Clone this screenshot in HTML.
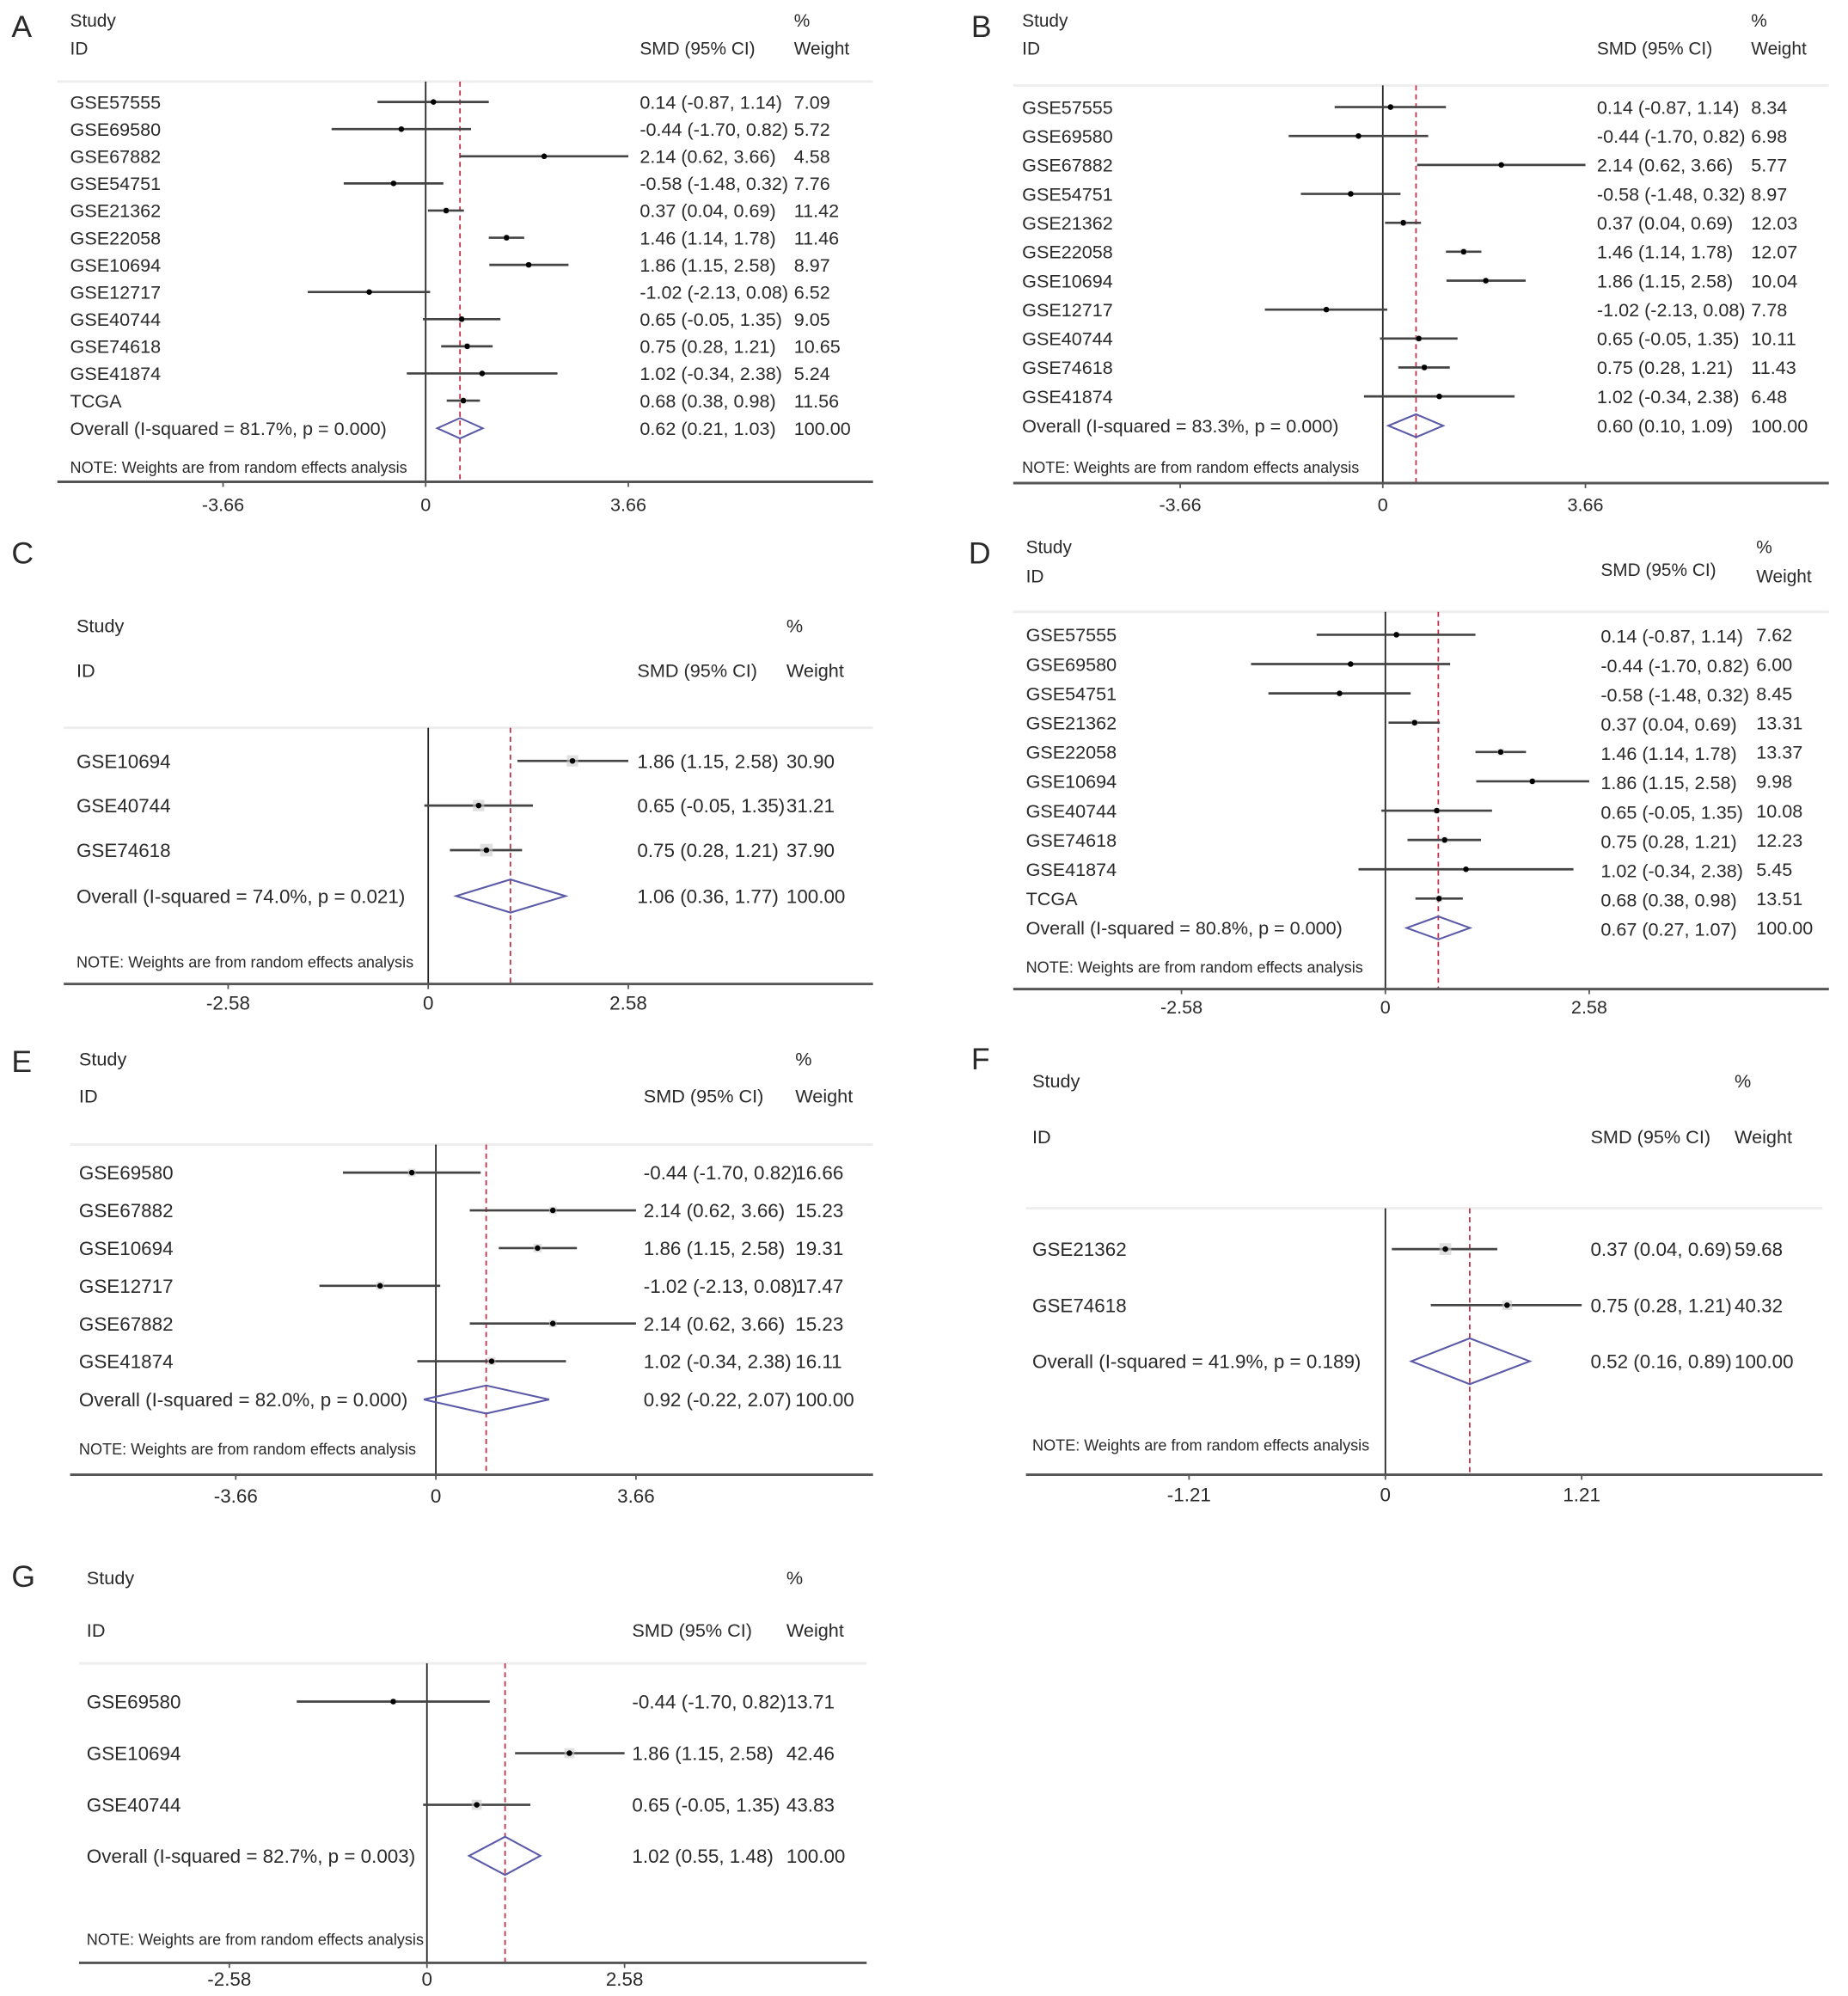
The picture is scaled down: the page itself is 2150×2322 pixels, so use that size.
<!DOCTYPE html>
<html><head><meta charset="utf-8">
<style>
html,body{margin:0;padding:0;background:#fff;}
svg{display:block;}
text{font-family:"Liberation Sans Narrow","Liberation Sans",sans-serif;fill:#2a2a2a;}
</style></head>
<body>
<svg id="fig" width="2150" height="2322" viewBox="0 0 1450 1566" preserveAspectRatio="none" xmlns="http://www.w3.org/2000/svg"></svg>
<script>
// ---- Panel A data ----
const aStudies=["GSE57555","GSE69580","GSE67882","GSE54751","GSE21362","GSE22058","GSE10694","GSE12717","GSE40744","GSE74618","GSE41874","TCGA"];
const aSmd=[0.14,-0.44,2.14,-0.58,0.37,1.46,1.86,-1.02,0.65,0.75,1.02,0.68];
const aLo=[-0.87,-1.70,0.62,-1.48,0.04,1.14,1.15,-2.13,-0.05,0.28,-0.34,0.38];
const aHi=[1.14,0.82,3.66,0.32,0.69,1.78,2.58,0.08,1.35,1.21,2.38,0.98];
const aWeight=["7.09","5.72","4.58","7.76","11.42","11.46","8.97","6.52","9.05","10.65","5.24","11.56"];
const aOverall=[0.62,0.21,1.03];
const aOverallLabel="Overall  (I-squared = 81.7%, p = 0.000)";
const aTicks=[-3.66,0,3.66];
// ---- Panel B data ----
const bStudies=["GSE57555","GSE69580","GSE67882","GSE54751","GSE21362","GSE22058","GSE10694","GSE12717","GSE40744","GSE74618","GSE41874"];
const bSmd=[0.14,-0.44,2.14,-0.58,0.37,1.46,1.86,-1.02,0.65,0.75,1.02];
const bLo=[-0.87,-1.70,0.62,-1.48,0.04,1.14,1.15,-2.13,-0.05,0.28,-0.34];
const bHi=[1.14,0.82,3.66,0.32,0.69,1.78,2.58,0.08,1.35,1.21,2.38];
const bWeight=["8.34","6.98","5.77","8.97","12.03","12.07","10.04","7.78","10.11","11.43","6.48"];
const bOverall=[0.60,0.10,1.09];
const bOverallLabel="Overall  (I-squared = 83.3%, p = 0.000)";
const bTicks=[-3.66,0,3.66];
// ---- Panel C data ----
const cStudies=["GSE10694","GSE40744","GSE74618"];
const cSmd=[1.86,0.65,0.75];
const cLo=[1.15,-0.05,0.28];
const cHi=[2.58,1.35,1.21];
const cWeight=["30.90","31.21","37.90"];
const cOverall=[1.06,0.36,1.77];
const cOverallLabel="Overall  (I-squared = 74.0%, p = 0.021)";
const cTicks=[-2.58,0,2.58];
// ---- Panel D data ----
const dStudies=["GSE57555","GSE69580","GSE54751","GSE21362","GSE22058","GSE10694","GSE40744","GSE74618","GSE41874","TCGA"];
const dSmd=[0.14,-0.44,-0.58,0.37,1.46,1.86,0.65,0.75,1.02,0.68];
const dLo=[-0.87,-1.70,-1.48,0.04,1.14,1.15,-0.05,0.28,-0.34,0.38];
const dHi=[1.14,0.82,0.32,0.69,1.78,2.58,1.35,1.21,2.38,0.98];
const dWeight=["7.62","6.00","8.45","13.31","13.37","9.98","10.08","12.23","5.45","13.51"];
const dOverall=[0.67,0.27,1.07];
const dOverallLabel="Overall  (I-squared = 80.8%, p = 0.000)";
const dTicks=[-2.58,0,2.58];
// ---- Panel E data ----
const eStudies=["GSE69580","GSE67882","GSE10694","GSE12717","GSE67882","GSE41874"];
const eSmd=[-0.44,2.14,1.86,-1.02,2.14,1.02];
const eLo=[-1.70,0.62,1.15,-2.13,0.62,-0.34];
const eHi=[0.82,3.66,2.58,0.08,3.66,2.38];
const eWeight=["16.66","15.23","19.31","17.47","15.23","16.11"];
const eOverall=[0.92,-0.22,2.07];
const eOverallLabel="Overall  (I-squared = 82.0%, p = 0.000)";
const eTicks=[-3.66,0,3.66];
// ---- Panel F data ----
const fStudies=["GSE21362","GSE74618"];
const fSmd=[0.37,0.75];
const fLo=[0.04,0.28];
const fHi=[0.69,1.21];
const fWeight=["59.68","40.32"];
const fOverall=[0.52,0.16,0.89];
const fOverallLabel="Overall  (I-squared = 41.9%, p = 0.189)";
const fTicks=[-1.21,0,1.21];
// ---- Panel G data ----
const gStudies=["GSE69580","GSE10694","GSE40744"];
const gSmd=[-0.44,1.86,0.65];
const gLo=[-1.70,1.15,-0.05];
const gHi=[0.82,2.58,1.35];
const gWeight=["13.71","42.46","43.83"];
const gOverall=[1.02,0.55,1.48];
const gOverallLabel="Overall  (I-squared = 82.7%, p = 0.003)";
const gTicks=[-2.58,0,2.58];

const NS="http://www.w3.org/2000/svg";
const svg=document.getElementById('fig');
const K=1.12;
function mk(tag,attrs,parent){const e=document.createElementNS(NS,tag);for(const k in attrs)e.setAttribute(k,attrs[k]);(parent||svg).appendChild(e);return e;}
function fmt(v){return v.toFixed(2);}
function ci(s,l,h){return fmt(s)+" ("+fmt(l)+", "+fmt(h)+")";}

function panel(L,d){
  const g=mk('g',{});
  
  
  const xs=v=>L.x0+v*L.unit;
  const fs=L.fs*K;
  let t;
  t=mk('text',{x:L.lx,y:L.ly,'font-size':24,'font-family':'Liberation Sans'},g);t.textContent=L.letter;
  
  
  t=mk('text',{x:L.labX,y:L.studyY,'font-size':fs-0.5},g);t.textContent="Study";
  
  
  t=mk('text',{x:L.labX,y:L.idY,'font-size':fs-0.5},g);t.textContent="ID";
  
  
  t=mk('text',{x:L.wX,y:L.studyY,'font-size':fs-0.5},g);t.textContent="%";
  
  
  t=mk('text',{x:L.vX,y:L.smdY,'font-size':fs-0.5},g);t.textContent="SMD (95% CI)";
  
  
  t=mk('text',{x:L.wX,y:L.idY,'font-size':fs-0.5},g);t.textContent="Weight";
  
  
  let ln=mk('line',{x1:L.ax1,x2:L.ax2,y1:L.hdrY,y2:L.hdrY,stroke:'#eee','stroke-width':2},g);
  
  
  ln=mk('line',{x1:xs(0),x2:xs(0),y1:L.hdrY,y2:L.axY,stroke:'#222','stroke-width':1.2},g);
  
  
  ln=mk('line',{x1:xs(d.ov[0]),x2:xs(d.ov[0]),y1:L.hdrY,y2:L.axY,stroke:'#c0304a','stroke-width':1.2,'stroke-dasharray':'4,3'},g);
  
  
  d.st.forEach((s,i)=>{
    const y=L.row0+i*L.step;
    const r=mk('g',{},g);
    
    
    let tt=mk('text',{x:L.labX,y:y+fs*0.36,'font-size':fs},r);tt.textContent=s;
    
    
    let l=mk('line',{x1:xs(d.lo[i]),x2:xs(d.hi[i]),y1:y,y2:y,stroke:'#444','stroke-width':1.8},r);
    
    
    const sz=Math.sqrt(parseFloat(d.w[i]))*L.sq;
    let q=mk('rect',{x:xs(d.smd[i])-sz/2,y:y-sz/2,width:sz,height:sz,fill:'#ccc','fill-opacity':0.6},r);
    
    
    let c=mk('circle',{cx:xs(d.smd[i]),cy:y,r:2.2,fill:'#000'},r);
    
    
    tt=mk('text',{x:L.vX,y:y+fs*0.36+(L.vDy||0),'font-size':fs},r);tt.textContent=ci(d.smd[i],d.lo[i],d.hi[i]);
    
    
    tt=mk('text',{x:L.wX,y:y+fs*0.36,'font-size':fs},r);tt.textContent=d.w[i];
    
    
  });
  const oy=L.ovY;
  t=mk('text',{x:L.labX,y:oy+fs*0.36,'font-size':fs},g);t.textContent=d.ovLabel;
  
  
  const dm=mk('polygon',{points:[xs(d.ov[1])+','+oy,xs(d.ov[0])+','+(oy-L.dh),xs(d.ov[2])+','+oy,xs(d.ov[0])+','+(oy+L.dh)].join(' '),fill:'none',stroke:'#5a5aa8','stroke-width':1.4},g);
  
  
  t=mk('text',{x:L.vX,y:oy+fs*0.36+(L.vDy||0),'font-size':fs},g);t.textContent=ci(d.ov[0],d.ov[1],d.ov[2]);
  
  
  t=mk('text',{x:L.wX,y:oy+fs*0.36,'font-size':fs},g);t.textContent="100.00";
  
  
  t=mk('text',{x:L.labX,y:L.noteY,'font-size':12.2},g);t.textContent="NOTE: Weights are from random effects analysis";
  
  
  ln=mk('line',{x1:L.ax1,x2:L.ax2,y1:L.axY,y2:L.axY,stroke:'#555','stroke-width':2},g);
  
  
  d.ticks.forEach(v=>{
    let tk=mk('line',{x1:xs(v),x2:xs(v),y1:L.axY,y2:L.axY+4,stroke:'#555','stroke-width':1.2},g);
    
    
    let tl=mk('text',{x:xs(v),y:L.tickY,'font-size':fs,'text-anchor':'middle'},g);tl.textContent=(v===0?"0":fmt(v));
    
    
  });
}

panel({letter:'A',lx:9,ly:29,labX:55,studyY:21,idY:43,smdY:43,vX:502,wX:623,hdrY:64,row0:80,step:21.3,ovY:336,noteY:371,axY:378,ax1:45,ax2:685,x0:334,unit:43.44,tickY:401,fs:13,dh:8,sq:1.4},
 {st:aStudies,smd:aSmd,lo:aLo,hi:aHi,w:aWeight,ov:aOverall,ovLabel:aOverallLabel,ticks:aTicks});
panel({letter:'B',lx:762,ly:29,labX:802,studyY:21,idY:43,smdY:43,vX:1253,wX:1374,hdrY:67,row0:84,step:22.7,ovY:334,noteY:371,axY:379,ax1:795,ax2:1435,x0:1085,unit:43.44,tickY:401,fs:13,dh:9,sq:1.4},
 {st:bStudies,smd:bSmd,lo:bLo,hi:bHi,w:bWeight,ov:bOverall,ovLabel:bOverallLabel,ticks:bTicks});
panel({letter:'C',lx:9,ly:442,labX:60,studyY:496,idY:531,smdY:531,vX:500,wX:617,hdrY:571,row0:597,step:35,ovY:703,noteY:759,axY:772,ax1:50,ax2:685,x0:336,unit:60.85,tickY:792,fs:13.5,dh:13,sq:1.6},
 {st:cStudies,smd:cSmd,lo:cLo,hi:cHi,w:cWeight,ov:cOverall,ovLabel:cOverallLabel,ticks:cTicks});
panel({letter:'D',lx:760,ly:442,labX:805,studyY:434,idY:457,smdY:452,vX:1256,wX:1378,hdrY:480,row0:498,step:23,ovY:728,noteY:763,axY:776,ax1:795,ax2:1435,x0:1087,unit:62,tickY:795,fs:13,dh:9,sq:1.4,vDy:1},
 {st:dStudies,smd:dSmd,lo:dLo,hi:dHi,w:dWeight,ov:dOverall,ovLabel:dOverallLabel,ticks:dTicks});
panel({letter:'E',lx:9,ly:841,labX:62,studyY:836,idY:865,smdY:865,vX:505,wX:624,hdrY:898,row0:920,step:29.6,ovY:1098,noteY:1141,axY:1157,ax1:55,ax2:685,x0:342,unit:42.9,tickY:1179,fs:13.5,dh:11,sq:1.5},
 {st:eStudies,smd:eSmd,lo:eLo,hi:eHi,w:eWeight,ov:eOverall,ovLabel:eOverallLabel,ticks:eTicks});
panel({letter:'F',lx:762,ly:839,labX:810,studyY:853,idY:897,smdY:897,vX:1248,wX:1361,hdrY:948,row0:980,step:44,ovY:1068,noteY:1138,axY:1157,ax1:805,ax2:1430,x0:1087,unit:127.3,tickY:1178,fs:13.5,dh:18,sq:1.2},
 {st:fStudies,smd:fSmd,lo:fLo,hi:fHi,w:fWeight,ov:fOverall,ovLabel:fOverallLabel,ticks:fTicks});
panel({letter:'G',lx:9,ly:1245,labX:68,studyY:1243,idY:1284,smdY:1284,vX:496,wX:617,hdrY:1305,row0:1335,step:40.5,ovY:1456,noteY:1526,axY:1540,ax1:62,ax2:680,x0:335,unit:60.1,tickY:1558,fs:13.5,dh:15,sq:1.2},
 {st:gStudies,smd:gSmd,lo:gLo,hi:gHi,w:gWeight,ov:gOverall,ovLabel:gOverallLabel,ticks:gTicks});
</script>
</body></html>
